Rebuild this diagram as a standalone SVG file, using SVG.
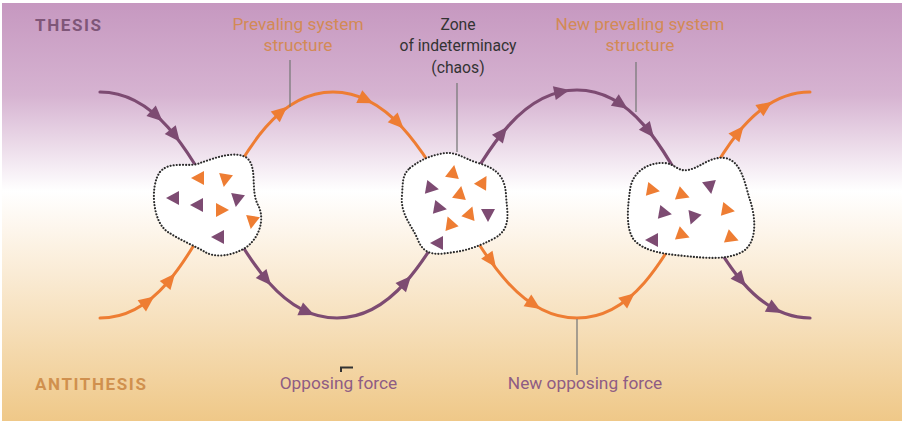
<svg xmlns="http://www.w3.org/2000/svg" xmlns:xlink="http://www.w3.org/1999/xlink" width="906" height="425" viewBox="0 0 906 425">
<defs>
<linearGradient id="bg" x1="0" y1="0" x2="0" y2="1">
<stop offset="0" stop-color="#c698c0"/>
<stop offset="0.22" stop-color="#d6b3d1"/>
<stop offset="0.45" stop-color="#ffffff"/>
<stop offset="0.55" stop-color="#fdf5ea"/>
<stop offset="1" stop-color="#efc888"/>
</linearGradient>
<path id="ah" d="M8.5,0 L-7,-7 L-7,7 Z"/>
<path id="tri" d="M7,0 L-6,-7 L-6,7 Z"/>
<style>
.lab{font-family:Roboto,"Liberation Sans",sans-serif;font-size:17.3px;text-anchor:middle}
.zone{font-family:Roboto,"Liberation Sans",sans-serif;font-size:15.7px;text-anchor:middle;fill:#333333}
.side{font-family:Roboto,"Liberation Sans",sans-serif;font-size:17px;font-weight:bold;letter-spacing:1.6px}
.pc{fill:none;stroke:#7d4b72;stroke-width:3.2;stroke-linecap:round}
.oc{fill:none;stroke:#ee7d33;stroke-width:3;stroke-linecap:round}
.pf{fill:#7d4b72}
.of{fill:#ee7d33}
.blob{fill:#ffffff;stroke:#2b2b2b;stroke-width:2.1;stroke-dasharray:0.1 3;stroke-linecap:round}
.lead{stroke:#7a7a7a;stroke-width:1.3;fill:none}
</style>
</defs>
<rect x="0" y="0" width="906" height="425" fill="#ffffff"/>
<rect x="2" y="3" width="900" height="418" fill="url(#bg)"/>

<g id="side-labels">
<text class="side" x="35" y="31" fill="#7f5678">THESIS</text>
<text class="side" x="35" y="390" fill="#d0904e">ANTITHESIS</text>
</g>

<g id="connectors">
<path class="pc" d="M100,92 C210,92 227,318 337,318 C447,318 467,90 577,90 C687,90 700,318 810,318"/>
<path class="oc" d="M100,318 C210,318 223,92 333,92 C443,92 467,318 577,318 C687,318 700,92 810,92"/>
<g class="pf">
<use xlink:href="#ah" transform="translate(156.3,115.5) rotate(42)"/>
<use xlink:href="#ah" transform="translate(174.6,135.2) rotate(51.5)"/>
<use xlink:href="#ah" transform="translate(265.6,278.8) rotate(50)"/>
<use xlink:href="#ah" transform="translate(306.6,311.7) rotate(23.6)"/>
<use xlink:href="#ah" transform="translate(405.4,282.4) rotate(-48.3)"/>
<use xlink:href="#ah" transform="translate(501.8,133.6) rotate(-51.3)"/>
<use xlink:href="#ah" transform="translate(561.2,91.7) rotate(-12)"/>
<use xlink:href="#ah" transform="translate(620.6,103.9) rotate(34.3)"/>
<use xlink:href="#ah" transform="translate(648.7,130.9) rotate(51.4)"/>
<use xlink:href="#ah" transform="translate(740.4,279.8) rotate(50.4)"/>
<use xlink:href="#ah" transform="translate(774.3,309) rotate(28.3)"/>
</g>
<g class="of">
<use xlink:href="#ah" transform="translate(147.4,301.6) rotate(-36.8)"/>
<use xlink:href="#ah" transform="translate(169.6,280.1) rotate(-50.1)"/>
<use xlink:href="#ah" transform="translate(280.6,112.3) rotate(-40.2)"/>
<use xlink:href="#ah" transform="translate(365.6,99.6) rotate(25.4)"/>
<use xlink:href="#ah" transform="translate(397.6,122.4) rotate(45.2)"/>
<use xlink:href="#ah" transform="translate(490.9,260.4) rotate(54.2)"/>
<use xlink:href="#ah" transform="translate(533.3,304.3) rotate(33.2)"/>
<use xlink:href="#ah" transform="translate(628.1,298.7) rotate(-39.3)"/>
<use xlink:href="#ah" transform="translate(738.3,132.5) rotate(-51.2)"/>
<use xlink:href="#ah" transform="translate(765.1,106.6) rotate(-35)"/>
</g>
</g>

<g id="zone1">
<path class="blob" d="M160,172 C170,160 190,168 200,163 C215,158 235,150 247,158 C258,168 250,190 258,205 C266,220 258,240 245,248 C232,256 215,258 205,252 C195,246 180,240 168,232 C152,222 150,185 160,172 Z"/>
<use xlink:href="#tri" class="of" transform="translate(198,178) rotate(180)"/>
<use xlink:href="#tri" class="of" transform="translate(225,180) rotate(100)"/>
<use xlink:href="#tri" class="pf" transform="translate(173,198) rotate(180)"/>
<use xlink:href="#tri" class="pf" transform="translate(197,205) rotate(180)"/>
<use xlink:href="#tri" class="of" transform="translate(222,210) rotate(0)"/>
<use xlink:href="#tri" class="pf" transform="translate(237,200) rotate(100)"/>
<use xlink:href="#tri" class="of" transform="translate(252,222) rotate(100)"/>
<use xlink:href="#tri" class="pf" transform="translate(218,237) rotate(180)"/>
</g>

<g id="zone2">
<path class="blob" d="M410,168 C420,160 430,156 440,154 C455,150 462,158 478,163 C495,168 505,175 506,195 C507,212 512,228 495,238 C480,246 468,250 455,252 C440,254 425,258 418,240 C412,225 400,215 402,195 C403,182 402,175 410,168 Z"/>
<use xlink:href="#tri" class="of" transform="translate(453,172) rotate(-80)"/>
<use xlink:href="#tri" class="of" transform="translate(483,182) rotate(-60)"/>
<use xlink:href="#tri" class="pf" transform="translate(432,188) rotate(10)"/>
<use xlink:href="#tri" class="of" transform="translate(460,193) rotate(-80)"/>
<use xlink:href="#tri" class="pf" transform="translate(440,208) rotate(10)"/>
<use xlink:href="#tri" class="of" transform="translate(470,213) rotate(-70)"/>
<use xlink:href="#tri" class="pf" transform="translate(488,215) rotate(90)"/>
<use xlink:href="#tri" class="of" transform="translate(450,223) rotate(-110)"/>
<use xlink:href="#tri" class="pf" transform="translate(437,243) rotate(180)"/>
</g>

<g id="zone3">
<path class="blob" d="M630,190 C632,172 648,162 665,163 C675,164 678,172 688,170 C700,168 710,156 725,158 C742,161 745,185 750,200 C756,218 758,245 740,253 C725,260 705,258 685,256 C665,254 645,252 634,240 C625,228 628,205 630,190 Z"/>
<use xlink:href="#tri" class="of" transform="translate(653,190) rotate(10)"/>
<use xlink:href="#tri" class="of" transform="translate(683,195) rotate(20)"/>
<use xlink:href="#tri" class="pf" transform="translate(710,187) rotate(80)"/>
<use xlink:href="#tri" class="pf" transform="translate(665,213) rotate(10)"/>
<use xlink:href="#tri" class="pf" transform="translate(693,218) rotate(110)"/>
<use xlink:href="#tri" class="of" transform="translate(728,210) rotate(10)"/>
<use xlink:href="#tri" class="pf" transform="translate(652,240) rotate(180)"/>
<use xlink:href="#tri" class="of" transform="translate(683,235) rotate(20)"/>
<use xlink:href="#tri" class="of" transform="translate(732,238) rotate(20)"/>
</g>

<g id="label-prevaling">
<line class="lead" x1="290" y1="60" x2="290" y2="107"/>
<text class="lab" x="298" y="30" fill="#d38a55">Prevaling system</text>
<text class="lab" x="298" y="51" fill="#d38a55">structure</text>
</g>
<g id="label-zone">
<line class="lead" x1="457" y1="83" x2="457" y2="152"/>
<text class="zone" x="458" y="30">Zone</text>
<text class="zone" x="458" y="51">of indeterminacy</text>
<text class="zone" x="458" y="73">(chaos)</text>
</g>
<g id="label-new-prevaling">
<line class="lead" x1="636" y1="62" x2="636" y2="112"/>
<text class="lab" x="640" y="30" fill="#d38a55">New prevaling system</text>
<text class="lab" x="640" y="51" fill="#d38a55">structure</text>
</g>
<g id="label-opposing">
<path d="M341,372 V367.5 H353" fill="none" stroke="#333333" stroke-width="2"/>
<text class="lab" x="338.5" y="389" fill="#8e5c84">Opposing force</text>
</g>
<g id="label-new-opposing">
<line class="lead" x1="577" y1="319" x2="577" y2="375"/>
<text class="lab" x="585" y="389" fill="#8e5c84">New opposing force</text>
</g>
</svg>
